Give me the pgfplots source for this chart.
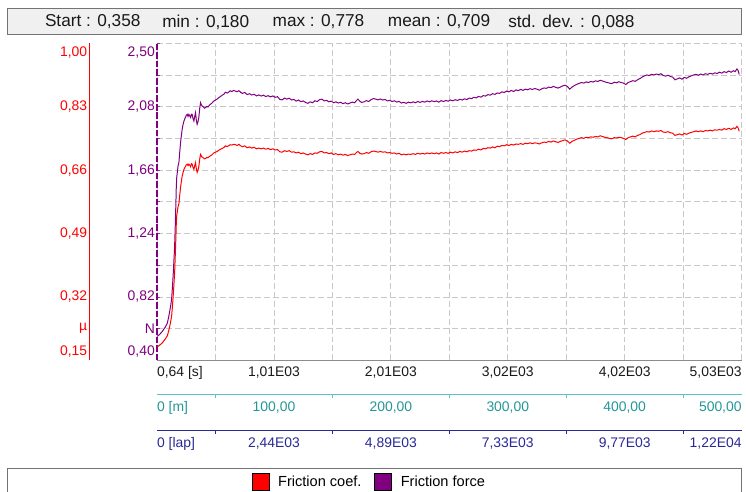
\documentclass[border=0pt]{standalone}
\usepackage{fontspec}
\setmainfont{Liberation Sans}
\usepackage{pgfplots}
\usepackage{pgfplotstable}
\pgfplotsset{compat=1.18}
\definecolor{fpurple}{RGB}{128,0,128}
\definecolor{fred}{RGB}{255,0,0}
\definecolor{lteal}{RGB}{90,195,195}
\definecolor{tteal}{RGB}{35,150,150}
\definecolor{lnavy}{RGB}{40,40,150}
\definecolor{gridc}{RGB}{200,200,200}
\pgfplotsset{every tick label/.append style={font=\fontsize{10.5}{12}\selectfont}}

% distance [m], friction force [N], friction coefficient
\pgfplotstableread{
x F mu
0 0.559 0.186
2 0.570 0.190
4.5 0.592 0.197
7 0.620 0.207
8.8 0.647 0.216
10 0.690 0.230
10.8 0.724 0.241
11.8 0.770 0.257
12.5 0.811 0.270
13.1 0.880 0.293
13.6 0.943 0.314
14.1 1.010 0.337
14.5 1.075 0.358
15.0 1.150 0.383
15.3 1.228 0.409
15.6 1.300 0.433
15.9 1.382 0.461
16.2 1.470 0.490
16.4 1.536 0.512
16.8 1.610 0.537
17.3 1.645 0.548
18.0 1.690 0.563
18.7 1.711 0.570
19.4 1.780 0.593
20.1 1.843 0.614
20.8 1.890 0.630
21.5 1.931 0.644
22.2 1.960 0.653
23.0 1.985 0.662
24.0 2.005 0.668
25.0 2.022 0.674
25.8 2.029 0.676
26.5 2.015 0.672
27.2 2.029 0.676
28.0 2.020 0.673
28.7 2.008 0.669
29.4 2.030 0.677
30.0 2.029 0.676
30.8 2.000 0.667
31.5 1.985 0.662
32.2 2.015 0.672
32.9 2.040 0.680
33.6 1.990 0.663
34.3 1.963 0.654
35.0 1.980 0.660
35.7 2.008 0.669
36.5 2.070 0.690
37.2 2.106 0.702
38.0 2.090 0.697
38.5 2.084 0.695
39.5 2.080 0.693
40.5 2.070 0.690
41.4 2.073 0.691
42.5 2.082 0.694
43.5 2.078 0.693
44.2 2.084 0.695
45.5 2.095 0.698
47.0 2.104 0.701
48.5 2.117 0.706
50.0 2.124 0.708
51.5 2.131 0.710
52.7 2.139 0.713
54.0 2.146 0.715
55.5 2.155 0.718
57.0 2.161 0.720
58.5 2.176 0.725
60.0 2.170 0.723
61.2 2.176 0.725
62.5 2.185 0.728
64.0 2.180 0.727
65.5 2.188 0.729
67.0 2.183 0.728
68.5 2.179 0.726
70.0 2.186 0.729
71.5 2.175 0.725
73.0 2.168 0.723
75.0 2.174 0.725
77.0 2.160 0.720
79.0 2.166 0.722
81.0 2.157 0.719
83.0 2.162 0.721
85.0 2.151 0.717
87.0 2.158 0.719
89.0 2.150 0.717
91.0 2.156 0.719
93.0 2.147 0.716
95.0 2.153 0.718
97.0 2.145 0.715
99.0 2.151 0.717
101.0 2.142 0.714
103.0 2.146 0.715
105.0 2.128 0.709
107.0 2.125 0.708
109.0 2.137 0.712
111.0 2.130 0.710
113.0 2.136 0.712
115.0 2.124 0.708
117.0 2.128 0.709
119.0 2.117 0.706
121.0 2.124 0.708
123.0 2.113 0.704
125.0 2.118 0.706
127.0 2.108 0.703
129.0 2.102 0.701
131.0 2.112 0.704
133.0 2.106 0.702
135.0 2.119 0.706
137.0 2.114 0.705
139.0 2.126 0.709
141.0 2.130 0.710
143.0 2.118 0.706
145.0 2.122 0.707
147.0 2.112 0.704
149.0 2.117 0.706
151.0 2.106 0.702
153.0 2.112 0.704
155.0 2.104 0.701
157.0 2.109 0.703
159.0 2.100 0.700
161.0 2.106 0.702
163.0 2.098 0.699
165.0 2.104 0.701
167.0 2.110 0.703
169.0 2.106 0.702
170.5 2.120 0.707
171.8 2.130 0.710
173.5 2.116 0.705
175.0 2.108 0.703
177.0 2.112 0.704
179.0 2.120 0.707
181.0 2.114 0.705
183.0 2.126 0.709
185.0 2.134 0.711
187.0 2.130 0.710
189.0 2.125 0.708
191.0 2.131 0.710
193.0 2.124 0.708
195.0 2.128 0.709
197.0 2.118 0.706
199.0 2.122 0.707
201.0 2.114 0.705
203.0 2.119 0.706
205.0 2.110 0.703
207.0 2.115 0.705
209.0 2.104 0.701
211.0 2.109 0.703
213.0 2.102 0.701
215.0 2.110 0.703
217.0 2.105 0.702
219.0 2.112 0.704
221.0 2.106 0.702
223.0 2.114 0.705
225.0 2.108 0.703
227.0 2.115 0.705
229.0 2.110 0.703
231.0 2.118 0.706
233.0 2.112 0.704
235.0 2.119 0.706
237.0 2.113 0.704
239.0 2.118 0.706
241.0 2.110 0.703
243.0 2.120 0.707
245.0 2.114 0.705
247.0 2.121 0.707
249.0 2.116 0.705
251.0 2.124 0.708
253.0 2.119 0.706
255.0 2.126 0.709
257.0 2.121 0.707
259.0 2.129 0.710
261.0 2.124 0.708
263.0 2.132 0.711
265.0 2.127 0.709
267.0 2.137 0.712
269.0 2.133 0.711
271.0 2.142 0.714
273.0 2.138 0.713
275.0 2.148 0.716
277.0 2.143 0.714
279.0 2.153 0.718
281.0 2.150 0.717
283.0 2.160 0.720
285.0 2.156 0.719
287.0 2.166 0.722
289.0 2.161 0.720
291.0 2.171 0.724
293.0 2.168 0.723
295.0 2.178 0.726
297.0 2.174 0.725
299.0 2.183 0.728
301.0 2.178 0.726
303.0 2.188 0.729
305.0 2.180 0.727
307.0 2.191 0.730
309.0 2.186 0.729
311.0 2.194 0.731
313.0 2.188 0.729
315.0 2.196 0.732
317.0 2.192 0.731
319.0 2.199 0.733
321.0 2.194 0.731
323.0 2.200 0.733
325.0 2.196 0.732
327.0 2.189 0.730
329.0 2.198 0.733
331.0 2.204 0.735
333.0 2.201 0.734
335.0 2.210 0.737
337.0 2.206 0.735
339.0 2.214 0.738
341.0 2.208 0.736
343.0 2.203 0.734
345.0 2.210 0.737
347.0 2.218 0.739
349.0 2.222 0.741
351.0 2.214 0.738
353.0 2.196 0.732
355.0 2.210 0.737
357.0 2.220 0.740
359.0 2.228 0.743
361.0 2.234 0.745
363.0 2.240 0.747
365.0 2.236 0.745
367.0 2.244 0.748
369.0 2.240 0.747
371.0 2.247 0.749
373.0 2.243 0.748
375.0 2.251 0.750
377.0 2.247 0.749
379.0 2.255 0.752
381.0 2.250 0.750
383.0 2.244 0.748
385.0 2.240 0.747
387.0 2.236 0.745
389.0 2.232 0.744
391.0 2.242 0.747
393.0 2.238 0.746
395.0 2.245 0.748
397.0 2.240 0.747
399.0 2.236 0.745
401.0 2.226 0.742
403.0 2.240 0.747
405.0 2.246 0.749
407.0 2.252 0.751
409.0 2.248 0.749
411.0 2.258 0.753
413.0 2.266 0.755
415.0 2.276 0.759
417.0 2.284 0.761
419.0 2.290 0.763
421.0 2.286 0.762
423.0 2.294 0.765
425.0 2.290 0.763
427.0 2.296 0.765
429.0 2.292 0.764
431.0 2.298 0.766
433.0 2.287 0.762
435.0 2.282 0.761
437.0 2.288 0.763
439.0 2.280 0.760
441.0 2.276 0.759
443.0 2.258 0.753
445.0 2.264 0.755
447.0 2.270 0.757
449.0 2.262 0.754
451.0 2.274 0.758
453.0 2.268 0.756
455.0 2.278 0.759
457.0 2.284 0.761
459.0 2.290 0.763
461.0 2.294 0.765
463.0 2.288 0.763
465.0 2.296 0.765
467.0 2.290 0.763
469.0 2.298 0.766
471.0 2.294 0.765
473.0 2.301 0.767
475.0 2.296 0.765
477.0 2.304 0.768
479.0 2.300 0.767
481.0 2.308 0.769
483.0 2.302 0.767
485.0 2.312 0.771
487.0 2.306 0.769
489.0 2.316 0.772
491.0 2.308 0.769
493.0 2.318 0.773
494.5 2.312 0.771
496.0 2.330 0.777
497.0 2.320 0.773
498.0 2.293 0.764
}\friction

\begin{document}
\begin{tikzpicture}
% frame, header and legend box (1 unit = 1 pixel of the reference)
\begin{scope}[x=0.75pt,y=0.75pt]
\useasboundingbox (0,0) rectangle (746,492);
\draw[fill=black!6, draw=black!55, line width=0.75pt] (8,483) rectangle (745.5,457);
\begin{scope}[every node/.style={anchor=west, text=black!90, font=\fontsize{13}{15}\selectfont, inner sep=0pt}]
\node at (45,470) {Start : 0,358};
\node at (163,470) {min : 0,180};
\node at (274,470) {max : 0,778};
\node at (390,470) {mean : 0,709};
\node at (511,470) {std. dev. : 0,088};
\end{scope}
\draw[black!55, line width=0.75pt] (8,-10) rectangle (745.5,21);
\end{scope}

% friction force axis (main plot area)
\begin{axis}[
  at={(118.5pt,97.125pt)}, anchor=south west,
  scale only axis, width=441pt, height=239.25pt,
  xmin=0, xmax=500, ymin=0.40, ymax=2.50, clip=false,
  axis x line*=bottom, axis y line*=left,
  x axis line style={draw=black!45, line width=0.75pt},
  y axis line style={draw=none},
  major tick length=2.5pt, tick align=inside,
  every major x tick/.append style={draw=none},
  every major y tick/.append style={draw=fpurple!80, line width=0.6pt},
  xtick={0,50,100,150,200,250,300,350,400,450,500},
  xticklabels={{\makebox[0pt][l]{0,64 [s]}},{},{1,01E03},{},{2,01E03},{},{3,02E03},{},{4,02E03},{},{\makebox[0pt][r]{5,03E03}}},
  ytick={0.40,0.61,0.82,1.03,1.24,1.45,1.66,1.87,2.08,2.29,2.50},
  yticklabels={{\raisebox{7pt}[\height][\depth]{0,40}},{N},{0,82},{},{1,24},{},{1,66},{},{2,08},{},{\raisebox{-6.75pt}[\height][\depth]{2,50}}},
  yticklabel style={text=fpurple, inner xsep=1.5pt},
  xticklabel style={text=black!90, inner ysep=4.5pt},
  grid=major,
  major grid style={gridc, dash pattern=on 4.5pt off 2.25pt, line width=0.6pt},
  legend image code/.code={\filldraw[#1, draw=black, line width=0.6pt] (0pt,-6.375pt) rectangle (12.75pt,6.375pt);},
  legend style={at={(0.1616,-0.384)}, anchor=west, draw=none, fill=none,
    inner sep=0pt, legend columns=2, font=\fontsize{11}{13}\selectfont,
    /tikz/every odd column/.append style={column sep=4.5pt},
    /tikz/every even column/.append style={column sep=7.75pt}},
]
\addlegendimage{fred}
\addlegendentry{Friction coef.}
\addplot[fpurple, line width=0.75pt] table[x=x, y=F] {\friction};
\addlegendentry{Friction force}
\draw[fpurple, line width=1.1pt, dash pattern=on 5pt off 1.5pt] (rel axis cs:0,0) -- (rel axis cs:0,1);
\end{axis}

% friction coefficient data, same plot area
\begin{axis}[
  at={(118.5pt,97.125pt)}, anchor=south west,
  scale only axis, width=441pt, height=239.25pt,
  xmin=0, xmax=500, ymin=0.15, ymax=1.00, hide axis,
]
\addplot[fred, line width=0.75pt] table[x=x, y=mu] {\friction};
\end{axis}

% friction coefficient scale on the far left
\begin{axis}[
  at={(67.5pt,97.125pt)}, anchor=south west,
  scale only axis, width=20pt, height=239.25pt,
  xmin=0, xmax=1, ymin=0.15, ymax=1.00,
  hide x axis, axis y line*=left,
  y axis line style={draw=none},
  major tick length=0pt,
  ytick={0.15,0.235,0.32,0.405,0.49,0.575,0.66,0.745,0.83,0.915,1.00},
  yticklabels={{\raisebox{7pt}[\height][\depth]{0,15}},{µ},{0,32},{},{0,49},{},{0,66},{},{0,83},{},{\raisebox{-6.75pt}[\height][\depth]{1,00}}},
  yticklabel style={text=fred, inner xsep=1.5pt},
]
\end{axis}

% distance row
\begin{axis}[
  at={(118.5pt,71.25pt)}, anchor=south west,
  scale only axis, width=441pt, height=5pt,
  xmin=0, xmax=500, ymin=0, ymax=1,
  hide y axis, axis x line*=bottom,
  x axis line style={draw=lteal, line width=0.75pt},
  major tick length=0pt, minor tick length=2.5pt, tick align=outside,
  every tick/.style={lteal},
  xtick={0,100,200,300,400,500},
  minor xtick={50,150,250,350,450},
  xticklabels={{\makebox[0pt][l]{0 [m]}},{100,00},{200,00},{300,00},{400,00},{\makebox[0pt][r]{500,00}}},
  xticklabel style={text=tteal, inner ysep=5pt},
]
\end{axis}

% lap row
\begin{axis}[
  at={(118.5pt,44.25pt)}, anchor=south west,
  scale only axis, width=441pt, height=5pt,
  xmin=0, xmax=500, ymin=0, ymax=1,
  hide y axis, axis x line*=bottom,
  x axis line style={draw=lnavy, line width=0.75pt},
  major tick length=0pt, minor tick length=2.5pt, tick align=outside,
  every tick/.style={lnavy},
  xtick={0,100,200,300,400,500},
  minor xtick={50,150,250,350,450},
  xticklabels={{\makebox[0pt][l]{0 [lap]}},{2,44E03},{4,89E03},{7,33E03},{9,77E03},{\makebox[0pt][r]{1,22E04}}},
  xticklabel style={text=lnavy, inner ysep=5pt},
]
\end{axis}

% red coefficient axis line
\begin{scope}[x=0.75pt,y=0.75pt]
\draw[fred, line width=1.1pt] (90,129.5) -- (90,448.5);
\end{scope}
\end{tikzpicture}
\end{document}
